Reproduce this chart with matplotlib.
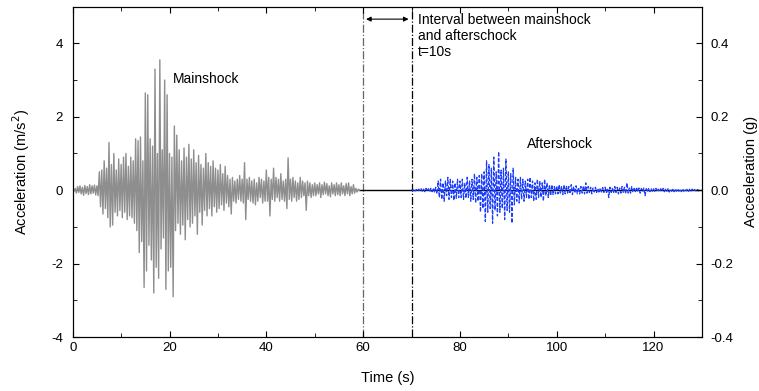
import numpy as np
import matplotlib.pyplot as plt

plt.rcParams['font.family'] = ['Liberation Sans', 'DejaVu Sans']
plt.rcParams['axes.unicode_minus'] = False

# peak / trough values, one every 0.25 s
dt = 0.25
main_start = 0.0
main_acc = [
    0.0, -0.03, 0.05, -0.08, 0.1, -0.06, 0.12, -0.1, 0.08, -0.14, 0.13, -0.09, 0.1, -0.12, 0.15, -0.1, 0.12, -0.08, 0.14, -0.13,
    0.12, -0.15, 0.5, -0.45, 0.55, -0.65, 0.8, -0.5, 0.6, -0.75, 1.3, -1.0, 0.7, -0.95, 1.0, -0.6, 0.55, -0.7, 0.85, -0.55,
    0.7, -0.75, 0.9, -0.6, 1.0, -0.8, 0.65, -0.7, 0.9, -0.75, 0.8, -0.9, 1.4, -1.1, 1.35, -1.7, 1.45, -1.4, 0.8, -2.65,
    2.65, -2.2, 2.6, -1.5, 1.4, -1.9, 1.2, -2.8, 3.3, -2.1, 1.0, -2.4, 3.55, -1.6, 1.1, -1.3, 3.0, -2.7, 2.6, -2.2,
    1.0, -2.1, 0.9, -2.9, 1.75, -1.1, 1.5, -0.9, 1.1, -1.2, 0.8, -0.95, 1.15, -1.35, 0.9, -0.8, 1.25, -1.0, 0.85, -0.9,
    1.1, -0.7, 0.75, -1.2, 0.95, -0.6, 0.7, -0.95, 0.6, -0.55, 1.0, -0.7, 0.75, -0.5, 0.65, -0.7, 0.8, -0.45, 0.6, -0.6,
    0.55, -0.5, 0.7, -0.4, 0.45, -0.55, 0.65, -0.35, 0.4, -0.45, 0.3, -0.65, 0.35, -0.3, 0.25, -0.35, 0.3, -0.25, 0.4, -0.3,
    0.3, -0.35, 0.75, -0.8, 0.3, -0.25, 0.35, -0.3, 0.25, -0.35, 0.3, -0.4, 0.2, -0.3, 0.35, -0.2, 0.3, -0.35, 0.25, -0.3,
    0.55, -0.3, 0.35, -0.7, 0.3, -0.25, 0.6, -0.3, 0.35, -0.2, 0.3, -0.3, 0.45, -0.25, 0.25, -0.3, 0.3, -0.5, 0.88, -0.25,
    0.3, -0.3, 0.35, -0.2, 0.25, -0.3, 0.2, -0.25, 0.35, -0.2, 0.25, -0.15, 0.2, -0.55, 0.25, -0.15, 0.2, -0.2, 0.15, -0.15,
    0.2, -0.15, 0.15, -0.1, 0.2, -0.2, 0.15, -0.12, 0.22, -0.1, 0.18, -0.15, 0.12, -0.18, 0.2, -0.1, 0.15, -0.15, 0.2, -0.12,
    0.15, -0.15, 0.2, -0.1, 0.12, -0.15, 0.18, -0.1, 0.2, -0.15, 0.1, -0.1, 0.15, -0.08, 0.05, -0.05, 0.03, 0.0,
]

after_start = 70.0
after_acc = [
    0.02, -0.02, 0.03, -0.02, 0.02, -0.03, 0.03, -0.02, 0.04, -0.03, 0.03, -0.04, 0.05, -0.03, 0.04, -0.05, 0.05, -0.04, 0.06, -0.05,
    0.08, -0.1, 0.25, -0.2, 0.3, -0.25, 0.2, -0.3, 0.25, -0.15, 0.35, -0.25, 0.3, -0.2, 0.25, -0.28, 0.2, -0.22, 0.3, -0.2,
    0.25, -0.2, 0.3, -0.25, 0.2, -0.22, 0.35, -0.2, 0.25, -0.3, 0.3, -0.25, 0.45, -0.35, 0.35, -0.3, 0.4, -0.6, 0.45, -0.5,
    0.5, -0.85, 0.8, -0.6, 0.7, -0.5, 0.6, -0.9, 0.9, -0.55, 0.5, -0.7, 1.05, -0.6, 0.55, -0.5, 0.6, -0.8, 0.85, -0.55,
    0.5, -0.6, 0.45, -0.9, 0.6, -0.4, 0.35, -0.3, 0.3, -0.35, 0.35, -0.25, 0.3, -0.3, 0.25, -0.2, 0.3, -0.25, 0.35, -0.2,
    0.25, -0.3, 0.2, -0.25, 0.3, -0.2, 0.25, -0.2, 0.2, -0.3, 0.3, -0.15, 0.2, -0.2, 0.15, -0.15, 0.15, -0.12, 0.1, -0.1,
    0.12, -0.1, 0.15, -0.08, 0.1, -0.12, 0.15, -0.1, 0.12, -0.08, 0.1, -0.1, 0.15, -0.12, 0.1, -0.08, 0.12, -0.1, 0.08, -0.1,
    0.1, -0.08, 0.12, -0.1, 0.2, -0.08, 0.1, -0.06, 0.08, -0.1, 0.06, -0.05, 0.08, -0.06, 0.05, -0.08, 0.06, -0.05, 0.07, -0.06,
    0.08, -0.06, 0.06, -0.2, 0.08, -0.06, 0.05, -0.08, 0.1, -0.06, 0.08, -0.1, 0.06, -0.08, 0.1, -0.06, 0.08, -0.1, 0.2, -0.08,
    0.06, -0.08, 0.1, -0.06, 0.05, -0.04, 0.08, -0.05, 0.06, -0.08, 0.05, -0.04, 0.06, -0.15, 0.04, -0.05, 0.06, -0.04, 0.05, -0.03,
    0.04, -0.03, 0.05, -0.04, 0.03, -0.05, 0.04, -0.03, 0.05, -0.04, 0.03, -0.03, 0.04, -0.05, 0.03, -0.03, 0.05, -0.04, 0.03, -0.03,
    0.04, -0.03, 0.03, -0.04, 0.04, -0.03, 0.03, -0.02, 0.04, -0.03, 0.03, -0.02, 0.03, -0.03, 0.02, -0.02, 0.03, -0.02, 0.02, -0.02,
]

gap_start, gap_end = 60, 70
t_end = 130

t_main = main_start + dt * np.arange(len(main_acc))
t_after = after_start + dt * np.arange(len(after_acc))

fig = plt.figure(figsize=(7.59, 3.91), dpi=100)
ax = fig.add_axes([0.0958, 0.138, 0.829, 0.845])

ax.plot(t_main, main_acc, color="#8e8e8e", lw=1.0, zorder=3)
ax.plot([t_main[-1], t_end], [0, 0], color="black", lw=1.0, zorder=2)
ax.plot(t_after, after_acc, color="#1a3cff", lw=0.9, ls=(0, (3, 1.5)), zorder=4)

ax.axvline(gap_start, color="#666666", lw=0.9, ls="-.", zorder=1)
ax.axvline(gap_end, color="black", lw=0.9, ls="-.", zorder=1)

ax.annotate("", xy=(gap_start + 0.6, 4.66), xytext=(gap_end - 0.6, 4.66),
            arrowprops=dict(arrowstyle="<|-|>", color="black", lw=0.8,
                            mutation_scale=7, shrinkA=0, shrinkB=0))
ax.text(71.3, 4.83, "Interval between mainshock\nand afterschock\nt=10s",
        fontsize=10, va="top", ha="left", linespacing=1.2)
ax.text(20.7, 3.03, "Mainshock", fontsize=10, va="center", ha="left")
ax.text(93.9, 1.27, "Aftershock", fontsize=10, va="center", ha="left")

ax.set_xlim(0, t_end)
ax.set_ylim(-4, 5)
ax.set_xticks(np.arange(0, 121, 20))
ax.set_xticks(np.arange(10, 131, 20), minor=True)
ax.set_yticks(np.arange(-4, 5, 2))
ax.set_yticks(np.arange(-3, 5, 2), minor=True)
ax.tick_params(which="both", direction="in", top=True, labelsize=9.5)
ax.tick_params(axis="y", pad=7)
ax.tick_params(which="major", length=4)
ax.tick_params(which="minor", length=3)
ax.set_xlabel("Time (s)", fontsize=10.5, labelpad=12)
ax.set_ylabel("Acceleration (m/s$^2$)", fontsize=10.5, labelpad=14)

ax2 = ax.twinx()
ax2.set_ylim(-0.4, 0.5)
ax2.set_yticks(np.arange(-0.4, 0.41, 0.2))
ax2.set_yticks(np.arange(-0.3, 0.41, 0.2), minor=True)
ax2.set_yticklabels([f"{v:.1f}" for v in np.arange(-0.4, 0.41, 0.2)])
ax2.tick_params(which="both", direction="in", labelsize=9.5, pad=6)
ax2.tick_params(which="major", length=4)
ax2.tick_params(which="minor", length=3)
ax2.set_ylabel("Acceeleration (g)", fontsize=10.5, labelpad=8)

fig.savefig("out.png", dpi=100)
